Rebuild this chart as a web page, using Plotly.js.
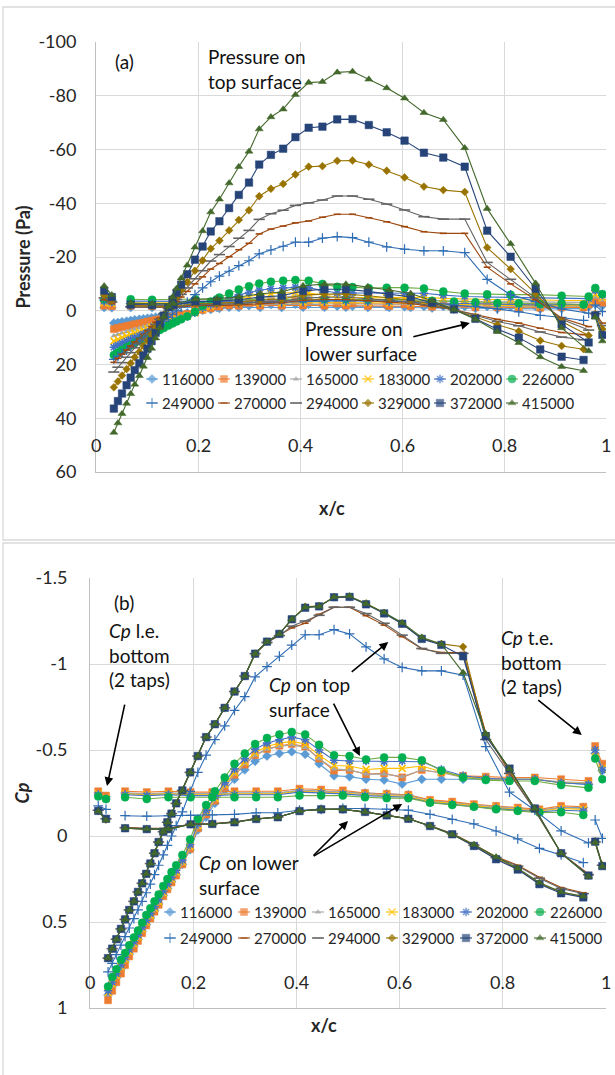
<!DOCTYPE html>
<html>
<head>
<meta charset="utf-8">
<script src="https://cdn.plot.ly/plotly-3.0.1.min.js"></script>
<style>
  html, body { margin: 0; padding: 0; background: #fff; }
  #chart { width: 615px; height: 1075px; }
</style>
</head>
<body>
<div id="chart"></div>
<script>
// Reynolds numbers of the twelve runs (series names)
const reynolds = ['116000', '139000', '165000', '183000', '202000', '226000',
                  '249000', '270000', '294000', '329000', '372000', '415000'];

// Tap positions x/c
const leX = [0.016, 0.031];                 // leading-edge taps, bottom
const teX = [0.979, 0.993];                 // trailing-edge taps, bottom
const lowerX = [0.068, 0.110, 0.152, 0.195, 0.237, 0.280, 0.322, 0.364, 0.406, 0.448, 0.490,
                0.533, 0.575, 0.617, 0.659, 0.702, 0.744, 0.787, 0.829, 0.871, 0.913, 0.956];
const upperX = [0.035, 0.043, 0.051, 0.060, 0.068, 0.076, 0.085, 0.093, 0.101, 0.109, 0.117,
                0.125, 0.133, 0.142, 0.150, 0.158, 0.167, 0.179, 0.194, 0.209, 0.225, 0.242,
                0.261, 0.280, 0.300, 0.320, 0.343, 0.367, 0.391, 0.417, 0.444, 0.473, 0.503,
                0.535, 0.570, 0.605, 0.643, 0.681, 0.723, 0.767, 0.813, 0.862, 0.913, 0.966];

// ---------- (a) pressure, Pa (one row per Reynolds number) ----------
const pLe = [[-1.2, -1.1], [-1.9, -1.7], [-2.5, -2.3], [-3.0, -2.7], [-3.6, -3.2], [-4.3, -4.1],
             [-4.0, -3.6], [-4.1, -2.7], [-4.8, -3.2], [-5.8, -3.8], [-7.5, -5.1], [-9.2, -5.9]];
const pTe = [[-2.4, -1.9], [-3.7, -3.0], [-5.1, -4.0], [-6.1, -4.8], [-7.6, -5.8], [-8.5, -6.2],
             [-2.1, 0.3], [1.1, 4.6], [1.1, 5.5], [1.2, 6.8], [1.7, 9.0], [2.4, 11.3]];
const pLower = [
  [-1.2, -1.2, -1.2, -1.2, -1.2, -1.2, -1.2, -1.2, -1.3, -1.3, -1.3,
   -1.2, -1.2, -1.2, -1.0, -1.0, -0.9, -0.8, -0.8, -0.7, -0.8, -0.8],
  [-1.9, -1.8, -1.9, -1.8, -1.8, -1.9, -1.9, -1.9, -2.0, -1.9, -1.9,
   -1.8, -1.8, -1.7, -1.5, -1.4, -1.3, -1.3, -1.2, -1.1, -1.3, -1.2],
  [-2.5, -2.5, -2.5, -2.5, -2.5, -2.5, -2.5, -2.5, -2.7, -2.6, -2.6,
   -2.5, -2.4, -2.4, -2.1, -1.9, -1.8, -1.7, -1.6, -1.5, -1.7, -1.6],
  [-3.0, -3.0, -3.0, -3.0, -3.0, -3.0, -3.0, -3.0, -3.2, -3.2, -3.1,
   -3.0, -2.9, -2.9, -2.5, -2.4, -2.2, -2.0, -1.9, -1.8, -2.0, -1.9],
  [-3.6, -3.5, -3.6, -3.5, -3.5, -3.6, -3.6, -3.6, -3.9, -3.8, -3.7,
   -3.5, -3.5, -3.4, -2.9, -2.8, -2.6, -2.4, -2.3, -2.1, -2.3, -2.2],
  [-4.3, -4.1, -4.3, -4.3, -4.3, -4.3, -4.3, -4.3, -4.4, -4.4, -4.4,
   -4.3, -4.2, -4.2, -3.7, -3.4, -3.2, -2.9, -2.8, -2.6, -2.6, -2.3],
  [-2.7, -2.6, -2.7, -2.8, -2.8, -2.9, -3.1, -3.1, -3.4, -3.6, -3.7,
   -3.7, -3.6, -3.4, -2.9, -2.2, -1.6, -0.7, 0.4, 1.7, 2.5, 3.6],
  [-1.4, -1.2, -1.2, -1.9, -1.9, -2.2, -2.7, -3.0, -3.9, -4.2, -4.2,
   -3.8, -3.2, -2.7, -1.6, -0.4, 1.4, 3.2, 4.6, 6.5, 8.1, 8.9],
  [-1.5, -1.4, -1.4, -2.2, -2.3, -2.6, -3.2, -3.5, -4.7, -5.0, -5.0,
   -4.5, -3.9, -3.2, -1.9, -0.4, 1.7, 4.0, 5.6, 7.9, 9.8, 10.8],
  [-1.8, -1.6, -1.6, -2.7, -2.8, -3.2, -4.0, -4.4, -5.8, -6.2, -6.2,
   -5.6, -4.8, -4.0, -2.3, -0.4, 2.3, 5.2, 7.6, 11.1, 13.1, 14.3],
  [-2.3, -2.1, -2.1, -3.5, -3.6, -4.1, -5.1, -5.6, -7.4, -8.0, -8.0,
   -7.2, -6.2, -5.1, -3.0, -0.5, 3.0, 6.9, 10.0, 14.4, 17.1, 18.3],
  [-2.9, -2.6, -2.6, -4.3, -4.5, -5.1, -6.3, -7.0, -9.3, -9.9, -9.9,
   -8.9, -7.7, -6.4, -3.7, -0.5, 3.2, 7.8, 11.9, 17.2, 20.8, 22.3]
];
const pUpper = [
  [4.6, 4.4, 4.1, 3.9, 3.6, 3.4, 3.2, 3.0, 2.8, 2.6, 2.4,
   2.2, 2.0, 1.7, 1.5, 1.3, 1.1, 0.8, 0.4, -0.2, -0.5, -0.9,
   -1.3, -1.6, -1.9, -2.2, -2.3, -2.4, -2.4, -2.4, -2.1, -1.7, -1.7,
   -1.6, -1.6, -1.5, -1.6, -1.6, -1.6, -1.6, -1.6, -1.6, -1.5, -1.5],
  [6.8, 6.4, 6.1, 5.7, 5.4, 5.0, 4.7, 4.4, 4.0, 3.7, 3.4,
   3.2, 2.9, 2.5, 2.2, 1.9, 1.6, 1.2, 0.5, -0.3, -0.9, -1.5,
   -2.0, -2.5, -3.0, -3.4, -3.6, -3.8, -3.8, -3.7, -3.2, -2.7, -2.7,
   -2.6, -2.6, -2.4, -2.7, -2.6, -2.5, -2.5, -2.4, -2.4, -2.4, -2.3],
  [9.3, 8.8, 8.3, 7.8, 7.3, 6.9, 6.4, 6.0, 5.6, 5.2, 4.7,
   4.3, 3.9, 3.4, 3.0, 2.6, 2.2, 1.6, 0.7, -0.5, -1.3, -2.1,
   -2.9, -3.6, -4.2, -4.7, -5.1, -5.3, -5.4, -5.2, -4.5, -3.9, -3.9,
   -3.6, -3.6, -3.5, -3.9, -3.7, -3.4, -3.3, -3.3, -3.3, -3.2, -3.1],
  [11.3, 10.7, 10.0, 9.4, 8.9, 8.3, 7.8, 7.3, 6.7, 6.2, 5.7,
   5.2, 4.7, 4.1, 3.6, 3.1, 2.6, 1.9, 0.7, -0.7, -1.7, -2.7,
   -3.7, -4.6, -5.3, -6.0, -6.4, -6.7, -6.8, -6.6, -5.8, -5.1, -5.0,
   -4.8, -4.9, -4.9, -5.0, -4.6, -4.3, -4.2, -4.1, -4.1, -3.8, -3.8],
  [13.6, 12.8, 12.1, 11.3, 10.6, 10.0, 9.3, 8.7, 8.0, 7.4, 6.8,
   6.2, 5.6, 4.8, 4.2, 3.6, 3.0, 2.1, 0.8, -1.1, -2.3, -3.5,
   -4.7, -5.9, -6.8, -7.6, -8.2, -8.5, -8.7, -8.5, -7.6, -6.6, -6.6,
   -6.6, -6.5, -6.6, -6.5, -5.8, -5.3, -5.1, -5.0, -5.0, -4.7, -4.5],
  [16.5, 15.5, 14.6, 13.6, 12.9, 12.0, 11.2, 10.4, 9.5, 8.7, 7.9,
   7.2, 6.4, 5.5, 4.7, 4.0, 3.2, 2.1, 0.4, -1.9, -3.4, -4.9,
   -6.4, -7.9, -9.1, -10.1, -10.8, -11.2, -11.4, -11.2, -10.0, -8.9, -8.8,
   -8.4, -8.6, -8.6, -8.3, -7.2, -6.4, -6.1, -6.0, -6.0, -5.6, -5.3],
  [18.1, 17.0, 15.8, 14.6, 13.4, 12.3, 11.0, 9.9, 8.7, 7.6, 6.4,
   5.2, 3.9, 2.5, 1.3, 0.0, -1.4, -3.2, -6.0, -8.5, -10.8, -12.9,
   -14.7, -16.8, -18.6, -21.2, -22.6, -24.0, -25.5, -25.5, -27.0, -27.6, -27.2,
   -25.5, -23.8, -22.9, -22.3, -22.3, -21.6, -11.7, -5.9, -3.4, -0.7, 0.9],
  [19.2, 17.7, 16.2, 14.6, 13.1, 11.6, 10.3, 8.8, 7.4, 5.9, 4.3,
   2.7, 0.9, -0.7, -2.2, -3.5, -5.1, -7.2, -10.0, -12.6, -15.5, -17.6,
   -20.1, -22.7, -25.1, -28.6, -30.4, -31.5, -32.7, -33.4, -34.8, -35.9, -35.9,
   -34.6, -33.1, -31.3, -29.4, -28.8, -28.8, -16.2, -10.0, -4.1, 2.7, 5.9],
  [22.8, 21.0, 19.3, 17.3, 15.6, 13.8, 12.2, 10.4, 8.8, 7.1, 5.1,
   3.2, 1.1, -0.8, -2.6, -4.2, -6.1, -8.5, -11.9, -14.9, -18.5, -20.9,
   -23.9, -27.0, -29.9, -34.0, -36.1, -37.4, -39.2, -40.1, -41.2, -42.7, -42.7,
   -41.5, -39.7, -37.5, -35.0, -34.1, -34.1, -18.0, -11.7, -4.8, 3.2, 7.2],
  [28.5, 26.3, 24.1, 21.7, 19.5, 17.3, 15.3, 13.1, 11.1, 8.8, 6.4,
   4.0, 1.4, -1.0, -3.2, -5.2, -7.6, -10.7, -14.9, -18.7, -23.1, -26.1,
   -29.9, -33.8, -37.4, -42.6, -45.4, -47.2, -50.7, -53.6, -53.8, -55.8, -55.9,
   -54.4, -52.1, -49.6, -46.2, -44.9, -44.2, -23.5, -15.5, -6.4, 4.0, 9.2],
  [36.4, 33.6, 30.8, 27.7, 24.9, 22.1, 19.5, 16.7, 14.1, 11.3, 8.2,
   5.1, 1.8, -1.3, -4.1, -6.7, -9.7, -13.6, -19.0, -23.9, -29.5, -33.3,
   -38.2, -43.1, -47.7, -54.4, -58.0, -60.3, -64.6, -68.1, -68.5, -71.2, -71.3,
   -69.1, -66.4, -63.3, -58.8, -57.0, -53.6, -29.8, -20.1, -8.2, 5.1, 11.8],
  [45.3, 41.8, 38.3, 34.5, 30.9, 27.4, 24.2, 20.7, 17.5, 14.0, 10.2,
   6.4, 2.2, -1.6, -5.1, -8.3, -12.1, -16.9, -23.6, -29.7, -36.7, -41.5,
   -47.5, -53.6, -59.3, -67.6, -72.1, -75.0, -80.4, -84.9, -85.2, -88.7, -89.0,
   -86.1, -82.9, -79.1, -73.7, -71.1, -60.6, -38.0, -24.9, -10.2, 6.4, 15.0]
];

// ---------- (b) pressure coefficient Cp ----------
const cpLe = [[-0.25, -0.23], [-0.26, -0.235], [-0.25, -0.225], [-0.245, -0.22], [-0.24, -0.215],
              [-0.23, -0.215], [-0.175, -0.155], [-0.15, -0.10], [-0.15, -0.10], [-0.145, -0.095],
              [-0.146, -0.10], [-0.144, -0.092]];
const cpTe = [[-0.48, -0.38], [-0.523, -0.42], [-0.50, -0.40], [-0.49, -0.39], [-0.50, -0.384],
              [-0.45, -0.33], [-0.093, 0.014], [0.04, 0.17], [0.035, 0.17], [0.03, 0.17],
              [0.033, 0.175], [0.038, 0.177]];
const cpLower = [
  [-0.25, -0.245, -0.25, -0.245, -0.245, -0.25, -0.25, -0.25, -0.265, -0.26, -0.255,
   -0.25, -0.245, -0.24, -0.205, -0.195, -0.18, -0.17, -0.16, -0.15, -0.165, -0.165],
  [-0.26, -0.255, -0.26, -0.255, -0.255, -0.26, -0.26, -0.26, -0.275, -0.27, -0.265,
   -0.25, -0.245, -0.24, -0.21, -0.2, -0.185, -0.175, -0.165, -0.155, -0.175, -0.17],
  [-0.25, -0.245, -0.25, -0.245, -0.245, -0.25, -0.25, -0.25, -0.265, -0.26, -0.255,
   -0.245, -0.24, -0.235, -0.205, -0.19, -0.18, -0.17, -0.16, -0.15, -0.165, -0.16],
  [-0.245, -0.24, -0.245, -0.24, -0.24, -0.245, -0.245, -0.245, -0.26, -0.255, -0.25,
   -0.24, -0.235, -0.23, -0.2, -0.19, -0.175, -0.165, -0.155, -0.145, -0.16, -0.155],
  [-0.24, -0.235, -0.24, -0.235, -0.235, -0.24, -0.24, -0.24, -0.255, -0.25, -0.245,
   -0.235, -0.23, -0.225, -0.195, -0.185, -0.17, -0.16, -0.15, -0.14, -0.15, -0.145],
  [-0.225, -0.215, -0.225, -0.225, -0.225, -0.225, -0.225, -0.225, -0.235, -0.235, -0.235,
   -0.225, -0.22, -0.22, -0.194, -0.18, -0.17, -0.155, -0.146, -0.136, -0.138, -0.122],
  [-0.118, -0.115, -0.118, -0.12, -0.122, -0.126, -0.135, -0.135, -0.15, -0.155, -0.16,
   -0.16, -0.157, -0.15, -0.126, -0.097, -0.07, -0.029, 0.017, 0.072, 0.11, 0.155],
  [-0.05, -0.045, -0.045, -0.07, -0.072, -0.082, -0.10, -0.11, -0.145, -0.155, -0.155,
   -0.14, -0.12, -0.10, -0.06, -0.015, 0.05, 0.12, 0.17, 0.24, 0.30, 0.33],
  [-0.048, -0.043, -0.043, -0.069, -0.071, -0.081, -0.10, -0.11, -0.145, -0.155, -0.155,
   -0.14, -0.12, -0.10, -0.06, -0.013, 0.053, 0.125, 0.175, 0.245, 0.305, 0.335],
  [-0.045, -0.04, -0.04, -0.068, -0.07, -0.08, -0.099, -0.109, -0.145, -0.155, -0.155,
   -0.14, -0.12, -0.10, -0.058, -0.01, 0.058, 0.13, 0.19, 0.277, 0.326, 0.355],
  [-0.045, -0.04, -0.04, -0.068, -0.07, -0.08, -0.099, -0.109, -0.145, -0.155, -0.155,
   -0.14, -0.12, -0.10, -0.058, -0.01, 0.058, 0.135, 0.195, 0.28, 0.333, 0.357],
  [-0.045, -0.04, -0.04, -0.068, -0.07, -0.08, -0.099, -0.109, -0.145, -0.155, -0.155,
   -0.14, -0.12, -0.10, -0.058, -0.008, 0.05, 0.122, 0.187, 0.27, 0.326, 0.35]
];
const cpUpper = [
  [0.925, 0.875, 0.825, 0.775, 0.73, 0.685, 0.64, 0.60, 0.555, 0.515, 0.475,
   0.435, 0.395, 0.345, 0.305, 0.265, 0.225, 0.165, 0.08, -0.035, -0.11, -0.19,
   -0.265, -0.33, -0.385, -0.435, -0.465, -0.48, -0.49, -0.475, -0.42, -0.35, -0.345,
   -0.33, -0.326, -0.302, -0.33, -0.33, -0.33, -0.33, -0.33, -0.33, -0.31, -0.30],
  [0.955, 0.90, 0.85, 0.80, 0.75, 0.70, 0.655, 0.61, 0.565, 0.52, 0.48,
   0.44, 0.40, 0.35, 0.31, 0.27, 0.23, 0.165, 0.075, -0.045, -0.125, -0.205,
   -0.285, -0.355, -0.415, -0.47, -0.505, -0.525, -0.535, -0.52, -0.45, -0.38, -0.384,
   -0.36, -0.364, -0.341, -0.384, -0.368, -0.35, -0.345, -0.34, -0.34, -0.33, -0.32],
  [0.92, 0.87, 0.82, 0.77, 0.725, 0.68, 0.635, 0.595, 0.55, 0.51, 0.47,
   0.43, 0.39, 0.34, 0.30, 0.26, 0.22, 0.16, 0.07, -0.05, -0.13, -0.21,
   -0.29, -0.36, -0.42, -0.47, -0.505, -0.52, -0.53, -0.515, -0.45, -0.39, -0.384,
   -0.36, -0.36, -0.345, -0.384, -0.368, -0.34, -0.33, -0.33, -0.33, -0.315, -0.31],
  [0.91, 0.86, 0.81, 0.76, 0.715, 0.67, 0.625, 0.585, 0.54, 0.50, 0.46,
   0.42, 0.38, 0.33, 0.29, 0.25, 0.21, 0.15, 0.06, -0.06, -0.14, -0.22,
   -0.30, -0.37, -0.43, -0.485, -0.52, -0.54, -0.55, -0.535, -0.47, -0.41, -0.407,
   -0.387, -0.393, -0.393, -0.407, -0.373, -0.345, -0.335, -0.33, -0.33, -0.31, -0.305],
  [0.90, 0.85, 0.80, 0.75, 0.705, 0.66, 0.615, 0.575, 0.53, 0.49, 0.45,
   0.41, 0.37, 0.32, 0.28, 0.24, 0.20, 0.14, 0.05, -0.07, -0.15, -0.23,
   -0.31, -0.39, -0.45, -0.505, -0.54, -0.56, -0.575, -0.56, -0.50, -0.44, -0.436,
   -0.436, -0.432, -0.436, -0.432, -0.387, -0.35, -0.335, -0.33, -0.33, -0.31, -0.30],
  [0.875, 0.82, 0.775, 0.72, 0.68, 0.635, 0.59, 0.55, 0.505, 0.46, 0.42,
   0.38, 0.34, 0.29, 0.25, 0.21, 0.17, 0.11, 0.02, -0.10, -0.18, -0.26,
   -0.34, -0.42, -0.48, -0.535, -0.57, -0.59, -0.605, -0.59, -0.53, -0.47, -0.465,
   -0.445, -0.457, -0.457, -0.44, -0.38, -0.34, -0.325, -0.32, -0.32, -0.296, -0.28],
  [0.79, 0.74, 0.69, 0.635, 0.585, 0.535, 0.48, 0.43, 0.38, 0.33, 0.28,
   0.225, 0.17, 0.11, 0.055, 0.0, -0.06, -0.14, -0.26, -0.37, -0.47, -0.56,
   -0.64, -0.73, -0.81, -0.925, -0.985, -1.045, -1.11, -1.17, -1.17, -1.20, -1.175,
   -1.10, -1.03, -0.98, -0.96, -0.96, -0.935, -0.52, -0.255, -0.15, -0.03, 0.04],
  [0.71, 0.655, 0.60, 0.54, 0.485, 0.43, 0.38, 0.325, 0.275, 0.22, 0.16,
   0.10, 0.035, -0.025, -0.08, -0.13, -0.19, -0.265, -0.37, -0.465, -0.575, -0.65,
   -0.745, -0.84, -0.93, -1.06, -1.125, -1.165, -1.21, -1.237, -1.289, -1.33, -1.33,
   -1.281, -1.226, -1.159, -1.089, -1.067, -1.067, -0.60, -0.37, -0.15, 0.10, 0.22],
  [0.71, 0.655, 0.60, 0.54, 0.485, 0.43, 0.38, 0.325, 0.275, 0.22, 0.16,
   0.10, 0.035, -0.025, -0.08, -0.13, -0.19, -0.265, -0.37, -0.465, -0.575, -0.65,
   -0.745, -0.84, -0.93, -1.06, -1.125, -1.165, -1.22, -1.25, -1.283, -1.33, -1.33,
   -1.293, -1.237, -1.168, -1.09, -1.062, -1.062, -0.561, -0.364, -0.15, 0.10, 0.225],
  [0.71, 0.655, 0.60, 0.54, 0.485, 0.43, 0.38, 0.325, 0.275, 0.22, 0.16,
   0.10, 0.035, -0.025, -0.08, -0.13, -0.19, -0.265, -0.37, -0.465, -0.575, -0.65,
   -0.745, -0.84, -0.93, -1.06, -1.13, -1.175, -1.26, -1.333, -1.338, -1.388, -1.39,
   -1.353, -1.296, -1.234, -1.149, -1.117, -1.10, -0.585, -0.386, -0.16, 0.10, 0.23],
  [0.71, 0.655, 0.60, 0.54, 0.485, 0.43, 0.38, 0.325, 0.275, 0.22, 0.16,
   0.10, 0.035, -0.025, -0.08, -0.13, -0.19, -0.265, -0.37, -0.465, -0.575, -0.65,
   -0.745, -0.84, -0.93, -1.06, -1.13, -1.175, -1.26, -1.327, -1.335, -1.388, -1.39,
   -1.347, -1.294, -1.234, -1.146, -1.111, -1.045, -0.58, -0.392, -0.16, 0.10, 0.23],
  [0.71, 0.655, 0.60, 0.54, 0.485, 0.43, 0.38, 0.325, 0.275, 0.22, 0.16,
   0.10, 0.035, -0.025, -0.08, -0.13, -0.19, -0.265, -0.37, -0.465, -0.575, -0.65,
   -0.745, -0.84, -0.93, -1.06, -1.13, -1.175, -1.26, -1.33, -1.335, -1.39, -1.395,
   -1.35, -1.30, -1.24, -1.155, -1.115, -0.95, -0.595, -0.39, -0.16, 0.10, 0.235]
];

// Axis ticks
const xTicks = [0, 0.2, 0.4, 0.6, 0.8, 1];
const xTickText = ['0', '0.2', '0.4', '0.6', '0.8', '1'];
const pTicks = [-100, -80, -60, -40, -20, 0, 20, 40, 60];
const pTickText = ['-100', '-80', '-60', '-40', '-20', '0', '20', '40', '60'];
const cpTicks = [-1.5, -1, -0.5, 0, 0.5, 1];
const cpTickText = ['-1.5', '-1', '-0.5', '0', '0.5', '1'];

// Line / marker style of each run
const styles = [
  { line: '#5B9BD5', symbol: 'diamond',         size: 7,   fill: '#5B9BD5' },
  { line: '#ED7D31', symbol: 'square',          size: 7,   fill: '#ED7D31' },
  { line: '#A5A5A5', symbol: 'triangle-up',     size: 5,   fill: '#A5A5A5' },
  { line: '#FFC000', symbol: 'x-thin-open',     size: 7,   fill: '#FFC000', open: true },
  { line: '#4472C4', symbol: 'asterisk-open',   size: 7,   fill: '#4472C4', open: true },
  { line: '#70AD47', symbol: 'circle',          size: 8,   fill: '#00B050' },
  { line: '#2E6DB4', symbol: 'cross-thin-open', size: 7,   fill: '#2E6DB4', open: true, lw: 1.2 },
  { line: '#9E480E', symbol: 'line-ew-open',    size: 5,   fill: '#9E480E', open: true },
  { line: '#636363', symbol: 'line-ew-open',    size: 8,   fill: '#636363', open: true },
  { line: '#997300', symbol: 'diamond',         size: 6,   fill: '#997300' },
  { line: '#264478', symbol: 'square',          size: 7.5, fill: '#264478' },
  { line: '#43682B', symbol: 'triangle-up',     size: 7,   fill: '#43682B' }
];

const FONT = 'Lato, "Open Sans", sans-serif';
const INK = '#262626';
const W = 615, H = 1075;

function markerOf(s, size) {
  return s.open
    ? { symbol: s.symbol, size: size, color: s.fill, line: { color: s.fill, width: s.lw || 1.6 } }
    : { symbol: s.symbol, size: size, color: s.fill, line: { color: s.fill, width: 0.5 } };
}

// One trace per run: l.e. taps, lower surface, upper surface, t.e. taps (gaps between)
function surfaceTraces(le, lower, upper, te, xa, ya) {
  return reynolds.map((name, i) => {
    const s = styles[i];
    return {
      type: 'scatter', mode: 'lines+markers', name: name,
      xaxis: xa, yaxis: ya,
      x: [...leX, null, ...lowerX, null, ...upperX, null, ...teX],
      y: [...le[i], null, ...lower[i], null, ...upper[i], null, ...te[i]],
      line: { color: s.line, width: 1.1 },
      marker: markerOf(s, s.size),
      connectgaps: false,
      hoverinfo: 'skip'
    };
  });
}

// Legend keys drawn on a page-sized pixel axis (x3/y3)
function legendKeys(textLeft, step, rows) {
  const traces = [], notes = [];
  reynolds.forEach((name, i) => {
    const s = styles[i];
    const tx = textLeft + (i % 6) * step;
    const ty = rows[Math.floor(i / 6)];
    traces.push({
      type: 'scatter', mode: 'lines+markers', xaxis: 'x3', yaxis: 'y3',
      x: [tx - 14, tx - 8, tx - 2], y: [ty, ty, ty],
      line: { color: s.line, width: 1.1 },
      marker: Object.assign(markerOf(s, s.size), { size: [0, s.size, 0] }),
      hoverinfo: 'skip', showlegend: false
    });
    notes.push({
      xref: 'x3', yref: 'y3', x: tx, y: ty, text: name, showarrow: false,
      xanchor: 'left', yanchor: 'middle', font: { size: 15, color: INK, family: FONT }
    });
  });
  return { traces, notes };
}

const legA = legendKeys(160, 72, [379, 403]);
const legB = legendKeys(178, 74, [912, 938]);

const data = [
  ...surfaceTraces(pLe, pLower, pUpper, pTe, 'x', 'y'),
  ...surfaceTraces(cpLe, cpLower, cpUpper, cpTe, 'x2', 'y2'),
  ...legA.traces, ...legB.traces
];

const gridCol = '#D9D9D9';
const axisCol = '#BFBFBF';

function xAxis(domain, anchor) {
  return {
    domain: domain, anchor: anchor, range: [0, 1], tickvals: xTicks,
    showticklabels: false, ticks: '', showgrid: true, gridcolor: gridCol, gridwidth: 1,
    zeroline: false, showline: true, linecolor: axisCol, linewidth: 1, mirror: false
  };
}
function yAxis(domain, anchor, range, vals, text, title, standoff, ticklen) {
  return {
    domain: domain, anchor: anchor, range: range, tickvals: vals, ticktext: text,
    ticks: 'outside', ticklen: ticklen, tickcolor: 'rgba(0,0,0,0)',
    tickfont: { size: 18, color: INK, family: FONT },
    showgrid: true, gridcolor: gridCol, gridwidth: 1, zeroline: false,
    showline: true, linecolor: axisCol, linewidth: 1,
    title: { text: title, standoff: standoff, font: { size: 18, color: INK, family: FONT, weight: 700 } }
  };
}

// x tick labels sit inside the plot area, just above the bottom edge
const tickNotes = [];
xTicks.forEach((v, i) => {
  tickNotes.push({ xref: 'x', yref: 'y', x: v, y: 50, text: xTickText[i], showarrow: false,
    font: { size: 18, color: INK, family: FONT } });
  tickNotes.push({ xref: 'x2', yref: 'y2', x: v, y: 0.85, text: xTickText[i], showarrow: false,
    font: { size: 18, color: INK, family: FONT } });
});

const txt = (xref, yref, x, y, text) => ({
  xref, yref, x, y, text, showarrow: false, xanchor: 'left', yanchor: 'middle', align: 'left',
  font: { size: 19, color: '#111', family: FONT }
});
const arrow = (xref, yref, x, y, ax, ay) => ({
  xref, yref, x, y, ax, ay, text: '', showarrow: true,
  arrowhead: 2, arrowsize: 1.1, arrowwidth: 1.6, arrowcolor: '#000'
});

const annotations = [
  ...tickNotes, ...legA.notes, ...legB.notes,
  // (a)
  txt('x', 'y', 0.033, -92.6, '(a)'),
  txt('x', 'y', 0.216, -90, 'Pressure on<br>top surface'),
  txt('x', 'y', 0.406, 11.1, 'Pressure on<br>lower surface'),
  arrow('x', 'y', 0.733, 4.6, -58, 14),
  // (b)
  txt('x2', 'y2', 0.043, -1.36, '(b)'),
  txt('x2', 'y2', 0.033, -1.052, '<i>Cp</i> l.e.<br>bottom<br>(2 taps)'),
  txt('x2', 'y2', 0.343, -0.811, '<i>Cp</i> on top<br>surface'),
  txt('x2', 'y2', 0.793, -1.012, '<i>Cp</i> t.e.<br>bottom<br>(2 taps)'),
  txt('x2', 'y2', 0.207, 0.224, '<i>Cp</i> on lower<br>surface'),
  arrow('x2', 'y2', 0.033, -0.29, 18, -83),
  arrow('x2', 'y2', 0.578, -1.128, -38, 31),
  arrow('x2', 'y2', 0.523, -0.465, -27, -54),
  arrow('x2', 'y2', 0.953, -0.587, -45, -36),
  arrow('x2', 'y2', 0.500, -0.087, -36, 36),
  arrow('x2', 'y2', 0.605, -0.186, -90, 53),
  // x axis titles
  { xref: 'paper', yref: 'paper', x: 332 / W, y: 1 - 508 / H, text: 'x/c', showarrow: false,
    font: { size: 18, color: INK, family: FONT, weight: 700 } },
  { xref: 'paper', yref: 'paper', x: 324 / W, y: 1 - 1038 / H, text: 'x/c', showarrow: false,
    font: { size: 18, color: INK, family: FONT, weight: 700 } }
];

const layout = {
  width: W, height: H, margin: { l: 0, r: 0, t: 0, b: 0 },
  paper_bgcolor: '#ffffff', plot_bgcolor: 'rgba(0,0,0,0)',
  showlegend: false, font: { family: FONT, size: 17, color: INK },
  xaxis: xAxis([96 / W, 606 / W], 'y'),
  yaxis: yAxis([1 - 472 / H, 1 - 42 / H], 'x', [60, -100], pTicks, pTickText, 'Pressure (Pa)', 3, 15),
  xaxis2: xAxis([90 / W, 606 / W], 'y2'),
  yaxis2: yAxis([1 - 1008 / H, 1 - 578 / H], 'x2', [1, -1.5], cpTicks, cpTickText, '<i>Cp</i>', 1, 18),
  xaxis3: { domain: [0, 1], anchor: 'y3', range: [0, W], visible: false, fixedrange: true },
  yaxis3: { domain: [0, 1], anchor: 'x3', range: [H, 0], visible: false, fixedrange: true },
  shapes: [
    { type: 'rect', xref: 'paper', yref: 'paper', x0: 3 / W, x1: 1.02, y0: 1 - 540 / H, y1: 1 - 7 / H,
      line: { color: gridCol, width: 1.3 }, fillcolor: 'rgba(0,0,0,0)', layer: 'below' },
    { type: 'rect', xref: 'paper', yref: 'paper', x0: 3 / W, x1: 1.02, y0: -0.02, y1: 1 - 543 / H,
      line: { color: gridCol, width: 1.3 }, fillcolor: 'rgba(0,0,0,0)', layer: 'below' }
  ],
  annotations: annotations
};

Plotly.newPlot('chart', data, layout, { staticPlot: true, displayModeBar: false });
</script>
</body>
</html>
